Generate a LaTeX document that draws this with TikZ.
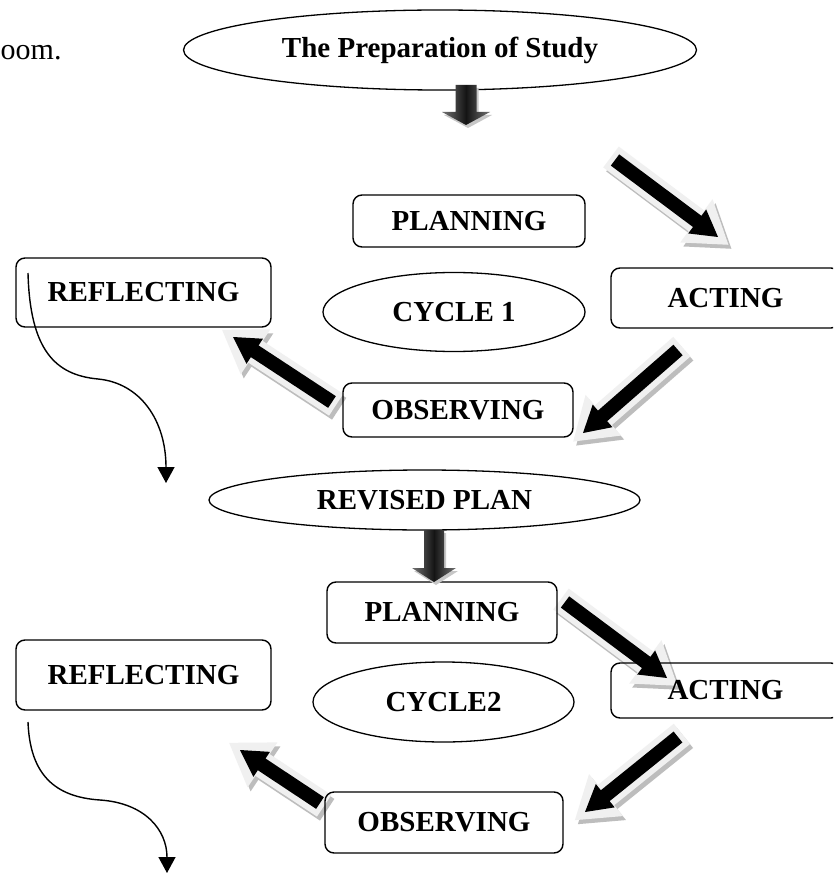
\documentclass[tikz,border=0pt]{standalone}
\usepackage{fontspec}
\setmainfont{Liberation Serif}
\usetikzlibrary{calc,arrows.meta,shapes.geometric,backgrounds}
\tikzset{
  lbl/.style={font=\fontsize{29}{32}\selectfont\bfseries},
  rbox/.style={draw, line width=1.4pt, rounded corners=9pt, inner sep=0pt, lbl},
  oval/.style={draw, ellipse, line width=1.3pt, inner sep=0pt, lbl},
  downshade/.style={left color=black!55, right color=black!55, middle color=black!92},
  curvy/.style={line width=1.4pt, -{Triangle[width=17pt,length=16pt]}},
}
% #1 tail, #2 tip, #3 half shaft, #4 half head, #5 head length, #6 fill
\newcommand\arrowpoly[6]{%
  \coordinate (apb) at ($(#2)!#5!(#1)$);
  \fill[#6] ($(#1)!#3!90:(#2)$) -- ($(apb)!#3!90:(#2)$) -- ($(apb)!#4!90:(#2)$) -- (#2)
    -- ($(apb)!#4!-90:(#2)$) -- ($(apb)!#3!-90:(#2)$) -- ($(#1)!#3!-90:(#2)$) -- cycle;
}
\newcommand\fatarrow[2]{%
  \coordinate (gt) at ($(#1)!-5pt!(#2)$);
  \coordinate (gh) at ($(#2)!-13pt!(#1)$);
  \begin{scope}[transform canvas={shift={(3pt,-4pt)}}]
    \arrowpoly{gt}{gh}{13pt}{27pt}{40pt}{black!26}
  \end{scope}
  \arrowpoly{gt}{gh}{13pt}{27pt}{40pt}{black!6}
  \arrowpoly{#1}{#2}{7pt}{15pt}{26pt}{black}
}
% #1 top centre, #2 half shaft, #3 half head, #4 head base, #5 tip
\newcommand\blockdownarrow[5]{%
  \fill[black!22] ($(#1)+(-#2+2,3)$) -- ($(#1)+(#2+2,3)$) -- ($(#1)+(#2+2,#4+3)$) -- ($(#1)+(#3+2,#4+3)$) -- ($(#1)+(2,#5+3)$) -- ($(#1)+(-#3+2,#4+3)$) -- ($(#1)+(-#2+2,#4+3)$) -- cycle;
  \shade[downshade] ($(#1)+(-#2,0)$) -- ($(#1)+(#2,0)$) -- ($(#1)+(#2,#4)$) -- ($(#1)+(#3,#4)$) -- ($(#1)+(0,#5)$) -- ($(#1)+(-#3,#4)$) -- ($(#1)+(-#2,#4)$) -- cycle;
}
\begin{document}
\begin{tikzpicture}[x=1pt,y=-1pt]
\useasboundingbox (0,0) rectangle (833,874);
\clip (0,0) rectangle (833,874);

% text fragment
\node[font=\fontsize{30}{32}\selectfont, anchor=base west, inner sep=0pt] (oom) at (0.5,60) {oom.};

% nodes
\node[oval, minimum width=513pt, minimum height=80pt] (title) at (440,50) {The Preparation of Study};
\node[rbox, minimum width=232pt, minimum height=52pt] (p1) at (469,221) {PLANNING};
\node[oval, minimum width=262pt, minimum height=79pt] (c1) at (454,312) {CYCLE 1};
\node[rbox, minimum width=229pt, minimum height=60pt] (a1) at (725.5,298) {ACTING};
\node[rbox, minimum width=230pt, minimum height=54pt] (o1) at (458,410) {OBSERVING};
\node[rbox, minimum width=255pt, minimum height=69pt] (r1) at (143.5,292.5) {REFLECTING};

\node[oval, minimum width=431pt, minimum height=60pt] (rev) at (424.5,500) {REVISED PLAN};
\node[rbox, minimum width=230pt, minimum height=61pt] (p2) at (442,612.5) {PLANNING};
\node[rbox, minimum width=255pt, minimum height=70pt] (r2) at (143.5,675) {REFLECTING};
\node[oval, minimum width=261pt, minimum height=80pt] (c2) at (443.5,702) {CYCLE2};
\node[rbox, minimum width=229pt, minimum height=55pt] (a2) at (725.5,690.5) {ACTING};
\node[rbox, minimum width=238pt, minimum height=61pt] (o2) at (444,822.5) {OBSERVING};

% block down arrows
\coordinate (dt1) at (466,85);
\coordinate (dt2) at (434,530);
\blockdownarrow{dt1}{10.5}{24}{27}{40}
\blockdownarrow{dt2}{10}{22}{38}{52}

% fat diagonal arrows (behind the boxes and their texts)
\coordinate (f1s) at (615,160); \coordinate (f1e) at (718,237);
\coordinate (f2s) at (678,350); \coordinate (f2e) at (583,433);
\coordinate (f3s) at (332,402); \coordinate (f3e) at (233,337);
\coordinate (f4s) at (565,602); \coordinate (f4e) at (667,678);
\coordinate (f5s) at (678,737); \coordinate (f5e) at (585,812);
\coordinate (f6s) at (320,803); \coordinate (f6e) at (240,750);
\begin{scope}[on background layer]
  \fill[white] (0,0) rectangle (833,874);
  \fatarrow{f1s}{f1e}
  \fatarrow{f2s}{f2e}
  \fatarrow{f3s}{f3e}
  \fatarrow{f4s}{f4e}
  \fatarrow{f5s}{f5e}
  \fatarrow{f6s}{f6e}
\end{scope}

% curved arrows
\coordinate (k1s) at (28,273); \coordinate (k1e) at (166,483);
\coordinate (k2s) at (28,722); \coordinate (k2e) at (167,873);
\draw[curvy] (k1s) .. controls (30,350) and (55,375) .. (98,379) .. controls (140,383) and (166,420) .. (k1e);
\draw[curvy] (k2s) .. controls (30,775) and (55,797) .. (100,800) .. controls (145,803) and (167,830) .. (k2e);
\end{tikzpicture}
\end{document}
